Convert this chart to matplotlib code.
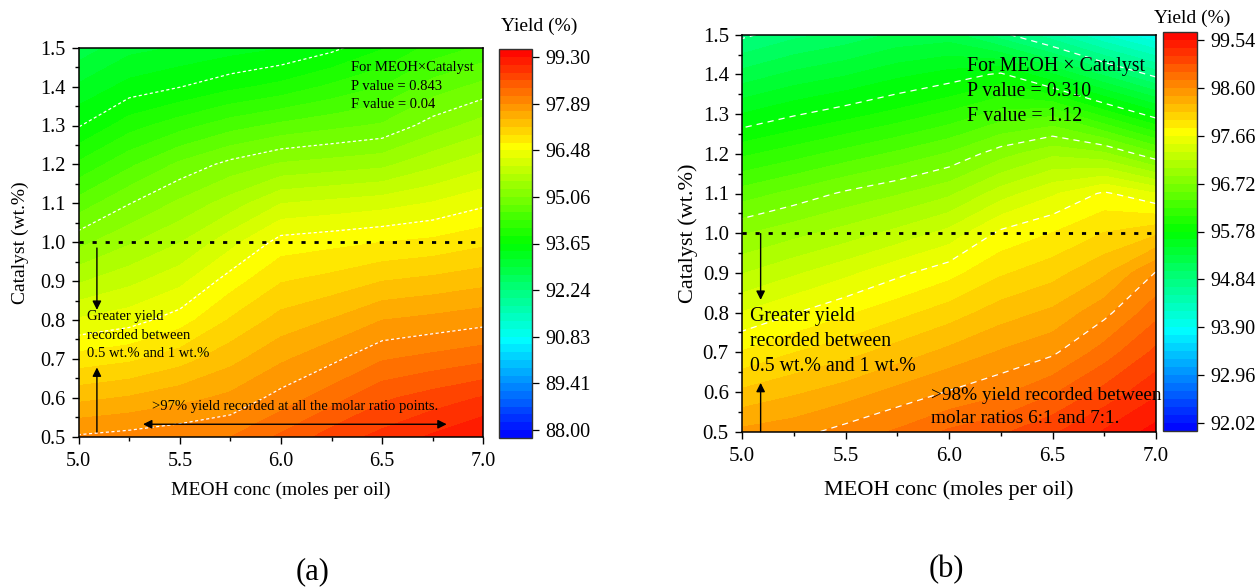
import numpy as np
import matplotlib
matplotlib.use("Agg")
import matplotlib.pyplot as plt
from matplotlib.colors import LinearSegmentedColormap
from matplotlib.ticker import MultipleLocator

plt.rcParams["font.family"] = ["Liberation Serif", "DejaVu Serif"]

# grid of the response surface
meoh = [5.0, 5.25, 5.5, 5.75, 6.0, 6.25, 6.5, 6.75, 7.0]
catalyst = [0.5, 0.6, 0.7, 0.8, 0.9, 1.0, 1.1, 1.2, 1.3, 1.4, 1.5]

# yield (%), one list per MEOH value (catalyst 0.5 -> 1.5)
yield_a_by_meoh = [
    [97.92, 97.35, 96.81, 96.27, 95.74, 95.22, 94.69, 94.17, 93.63, 93.22, 92.80],
    [97.98, 97.44, 96.90, 96.38, 95.94, 95.50, 95.05, 94.54, 94.02, 93.50, 93.10],
    [98.05, 97.57, 97.08, 96.60, 96.17, 95.76, 95.35, 94.88, 94.26, 93.64, 93.20],
    [98.12, 97.71, 97.34, 96.97, 96.60, 96.15, 95.64, 95.14, 94.49, 93.82, 93.30],
    [98.40, 97.98, 97.61, 97.27, 96.93, 96.58, 96.00, 95.33, 94.65, 93.96, 93.40],
    [98.70, 98.26, 97.83, 97.43, 97.03, 96.64, 96.07, 95.40, 94.76, 94.17, 93.58],
    [98.90, 98.55, 98.10, 97.65, 97.18, 96.71, 96.14, 95.47, 94.86, 94.36, 93.86],
    [99.10, 98.70, 98.20, 97.72, 97.25, 96.77, 96.26, 95.71, 95.17, 94.70, 94.20],
    [99.30, 98.85, 98.30, 97.80, 97.34, 96.89, 96.43, 95.93, 95.41, 94.90, 94.40],
]
yield_b_by_meoh = [
    [98.48, 98.16, 97.83, 97.51, 97.18, 96.86, 96.48, 96.06, 95.63, 95.21, 94.80],
    [98.54, 98.26, 97.97, 97.65, 97.32, 96.98, 96.61, 96.18, 95.76, 95.35, 94.95],
    [98.66, 98.36, 98.07, 97.79, 97.46, 97.10, 96.75, 96.31, 95.87, 95.45, 95.05],
    [98.78, 98.49, 98.20, 97.92, 97.62, 97.24, 96.86, 96.44, 95.99, 95.58, 95.18],
    [98.94, 98.61, 98.33, 98.05, 97.76, 97.40, 97.00, 96.58, 96.13, 95.68, 95.22],
    [99.04, 98.72, 98.46, 98.21, 97.95, 97.70, 97.27, 96.81, 96.31, 95.81, 94.90],
    [99.20, 98.89, 98.57, 98.32, 98.07, 97.82, 97.48, 97.00, 96.37, 95.48, 94.57],
    [99.40, 99.12, 98.83, 98.55, 98.26, 97.98, 97.69, 96.91, 96.03, 95.12, 94.20],
    [99.60, 99.35, 99.11, 98.86, 98.61, 98.10, 97.51, 96.59, 95.69, 94.78, 93.90],
]

ticks_a = [88.00, 89.41, 90.83, 92.24, 93.65, 95.06, 96.48, 97.89, 99.30]
ticks_b = [92.02, 92.96, 93.90, 94.84, 95.78, 96.72, 97.66, 98.60, 99.54]

cmap = LinearSegmentedColormap.from_list(
    "origin_rainbow", ["#0000ff", "#00ffff", "#00ff00", "#ffff00", "#ff0000"])

W, H = 1259, 587
fig = plt.figure(figsize=(W / 100, H / 100), dpi=100)


def rect(left, top, right, bottom):
    # pixel box -> figure fraction
    return [left / W, 1 - bottom / H, (right - left) / W, (bottom - top) / H]


def panel(ax_box, cax_box, z_by_meoh, ticks, n_lines, dash, fs_tick, fs_label,
          xlab_y, ylab_x):
    ax = fig.add_axes(rect(*ax_box))
    cax = fig.add_axes(rect(*cax_box))
    X, Y = np.meshgrid(meoh, catalyst)
    Z = np.array(z_by_meoh).T
    step = (ticks[-1] - ticks[0]) / 8 / 6
    levels = ticks[0] + step * np.arange(-1, 50)
    cf = ax.contourf(X, Y, Z, levels=levels, cmap=cmap)
    ax.contour(X, Y, Z, levels=ticks[n_lines[0]:n_lines[1]], colors="white",
               linewidths=0.9, linestyles=[dash])
    ax.axhline(1.0, color="black", lw=2.0, linestyle=(0, (1.5, 3.2)))
    ax.set_xlim(5.0, 7.0)
    ax.set_ylim(0.5, 1.5)
    ax.xaxis.set_major_locator(MultipleLocator(0.5))
    ax.xaxis.set_minor_locator(MultipleLocator(0.25))
    ax.yaxis.set_major_locator(MultipleLocator(0.1))
    ax.yaxis.set_minor_locator(MultipleLocator(0.05))
    ax.xaxis.set_major_formatter(lambda v, p: f"{v:.1f}")
    ax.yaxis.set_major_formatter(lambda v, p: f"{v:.1f}")
    ax.tick_params(which="major", direction="out", length=5, width=1,
                   labelsize=fs_tick)
    ax.tick_params(which="minor", direction="out", length=3, width=1)
    ax.tick_params(axis="x", pad=6)
    ax.tick_params(axis="y", pad=4.5)
    for s in ax.spines.values():
        s.set_linewidth(1.1)
    ax.set_xlabel("MEOH conc (moles per oil)", fontsize=fs_label, va="center")
    ax.set_ylabel("Catalyst (wt.%)", fontsize=fs_label, va="center")
    ax.xaxis.set_label_coords(0.5, xlab_y)
    ax.yaxis.set_label_coords(ylab_x, 0.5)

    cb = fig.colorbar(cf, cax=cax, ticks=ticks)
    cb.minorticks_off()
    cb.ax.set_yticklabels([f"{t:.2f}" for t in ticks])
    cb.outline.set_edgecolor("#333333")
    cb.outline.set_linewidth(1.0)
    cax.tick_params(direction="out", length=5, width=0.9, labelsize=14.5, pad=5)
    return ax


def arrow(ax, start, end, style="-|>"):
    ax.annotate("", xy=end, xytext=start,
                arrowprops=dict(arrowstyle=style, color="black", lw=1.0,
                                mutation_scale=13, shrinkA=0, shrinkB=0))


# ---- panel (a)
ax_a = panel((78.7, 47.7, 483.3, 436.7), (499, 49.3, 531.7, 437.7),
             yield_a_by_meoh, ticks_a, (4, 8), (0, (2.5, 2)), 14.5, 14,
             -0.139, -0.145)
for y, s in zip([1.448, 1.4015, 1.355],
                ["For MEOH×Catalyst", "P value = 0.843", "F value = 0.04"]):
    ax_a.text(6.346, y, s, fontsize=10.5, va="center", ha="left")
for y, s in zip([0.8085, 0.7614, 0.7146],
                ["Greater yield", "recorded between", "0.5 wt.% and 1 wt.%"]):
    ax_a.text(5.041, y, s, fontsize=10.5, va="center", ha="left")
ax_a.text(5.363, 0.577, ">97% yield recorded at all the molar ratio points.",
          fontsize=10.5, va="center", ha="left")
arrow(ax_a, (5.09, 0.985), (5.09, 0.826))
arrow(ax_a, (5.09, 0.512), (5.09, 0.678))
arrow(ax_a, (5.318, 0.532), (6.819, 0.532), "<|-|>")

# ---- panel (b)
ax_b = panel((742, 34.7, 1156, 431.7), (1163.3, 32.3, 1196.7, 430.7),
             yield_b_by_meoh, ticks_b, (3, 8), (0, (5, 4)), 15, 16,
             -0.147, -0.130)
for y, s in zip([1.421, 1.358, 1.293],
                ["For MEOH × Catalyst", "P value = 0.310", "F value = 1.12"]):
    ax_b.text(6.087, y, s, fontsize=14.3, va="center", ha="left")
for y, s in zip([0.790, 0.726, 0.663],
                ["Greater yield", "recorded between", "0.5 wt.% and 1 wt.%"]):
    ax_b.text(5.039, y, s, fontsize=14.3, va="center", ha="left")
for y, s in zip([0.592, 0.532],
                [">98% yield recorded between", "molar ratios 6:1 and 7:1."]):
    ax_b.text(5.915, y, s, fontsize=13.9, va="center", ha="left")
arrow(ax_b, (5.09, 0.999), (5.09, 0.832))
arrow(ax_b, (5.09, 0.5), (5.09, 0.623))

fig.text(539 / W, 1 - 26 / H, "Yield (%)", fontsize=14, ha="center", va="center")
fig.text(1192 / W, 1 - 18.3 / H, "Yield (%)", fontsize=14, ha="center", va="center")
fig.text(313 / W, 1 - 571.7 / H, "(a)", fontsize=22, ha="center", va="center")
fig.text(946.5 / W, 1 - 570 / H, "(b)", fontsize=22, ha="center", va="center")

fig.savefig("out.png", dpi=100)
